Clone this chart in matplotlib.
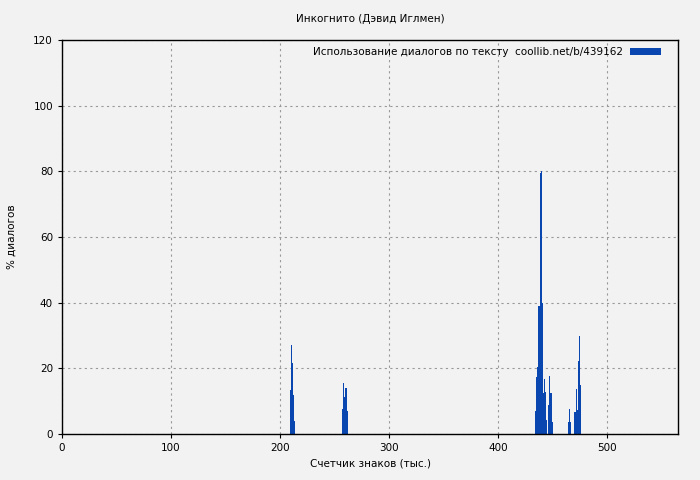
import matplotlib.pyplot as plt

# кластеры столбцов: позиция (тыс. знаков) и % диалогов
pos = [209, 210, 211, 212, 213,
       257, 258, 259, 260, 261,
       434, 435, 436, 437, 438, 439, 440, 441, 442, 443, 444,
       446, 447, 448, 449,
       464, 465, 466,
       470, 471, 472, 473, 474, 475]
vals = [13.4, 27.1, 21.7, 11.9, 4.1,
        7.6, 15.6, 11.4, 14.0, 7.1,
        7.1, 17.5, 20.5, 39.1, 79.4, 80.1, 40.0, 12.6, 16.9, 12.9, 4.3,
        8.8, 17.7, 12.4, 3.7,
        3.7, 7.7, 3.7,
        6.7, 13.8, 7.3, 22.3, 29.9, 14.9]

xticks = [0, 100, 200, 300, 400, 500]
yticks = [0, 20, 40, 60, 80, 100, 120]

bg = '#f2f2f2'
fig = plt.figure(figsize=(7, 4.8), dpi=100, facecolor=bg)
ax = fig.add_axes([62/700, 1 - 434/480, 616/700, 394/480])
ax.set_facecolor(bg)

ax.bar(pos, vals, width=1.0, align='edge', color='#0a46b0', linewidth=0,
       label='Использование диалогов по тексту  coollib.net/b/439162')

ax.set_xlim(0, 565)
ax.set_ylim(0, 120)
ax.set_xticks(xticks)
ax.set_yticks(yticks)
ax.grid(True, color='#999999', linestyle=(0, (2, 3)), linewidth=0.8)
ax.set_axisbelow(True)
ax.tick_params(labelsize=7.5, length=3)
for s in ax.spines.values():
    s.set_linewidth(1)

ax.set_title('Инкогнито (Дэвид Иглмен)', fontsize=7.5, pad=13)
ax.set_xlabel('Счетчик знаков (тыс.)', fontsize=7.5)
ax.set_ylabel('% диалогов', fontsize=7.5, labelpad=12)
ax.legend(loc='upper right', bbox_to_anchor=(0.985, 1.0), frameon=False,
          fontsize=7.5, markerfirst=False, handlelength=3.0,
          handleheight=0.6, handletextpad=0.7, borderaxespad=0.3)

fig.savefig('out.png', dpi=100, facecolor=bg)
